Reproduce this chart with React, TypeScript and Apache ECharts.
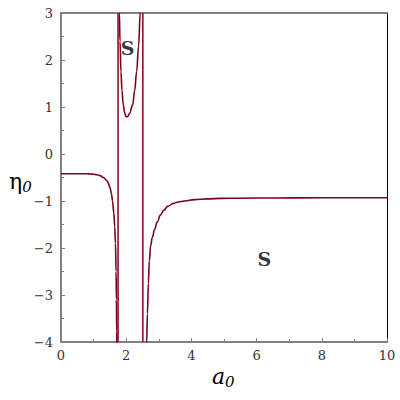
import React, { useEffect, useRef } from "react";
import * as echarts from "echarts";

const leftBranch: [number, number][] = [
  [0, -0.42], [0.5, -0.42], [0.8, -0.42], [0.9, -0.425], [1.0, -0.43], [1.1, -0.44],
  [1.2, -0.46], [1.3, -0.5], [1.4, -0.56], [1.45, -0.62], [1.5, -0.71], [1.55, -0.85],
  [1.58, -1.0], [1.62, -1.25], [1.65, -1.55], [1.67, -1.9], [1.69, -2.5], [1.7, -3.1],
  [1.71, -3.8], [1.715, -4.5],
];

const uBranch: [number, number][] = [
  [1.78, 3.6], [1.79, 3.0], [1.81, 2.4], [1.84, 1.75], [1.87, 1.35], [1.91, 1.05],
  [1.95, 0.88], [2.0, 0.79], [2.05, 0.8], [2.1, 0.86], [2.2, 1.05], [2.26, 1.35],
  [2.32, 1.75], [2.38, 2.3], [2.43, 3.0], [2.46, 3.5],
];

const rightBranch: [number, number][] = [
  [2.62, -4.5], [2.63, -4.0], [2.65, -3.4], [2.68, -2.75], [2.71, -2.27], [2.75, -1.95],
  [2.8, -1.78], [2.87, -1.61], [2.95, -1.45], [3.05, -1.3], [3.15, -1.2], [3.28, -1.11],
  [3.45, -1.05], [3.6, -1.02], [3.79, -1.0], [4.1, -0.97], [4.5, -0.955], [4.91, -0.945],
  [5.5, -0.94], [6.5, -0.935], [8, -0.93], [10, -0.93],
];

const asymptoteX = [1.75, 2.51];
const yRange = [-4, 3];
const xRange = [0, 10];

const regionLabels: [number, number][] = [
  [2.04, 2.26],
  [6.24, -2.24],
];
const regionText = "S";

const CURVE = "#7a0020";
const VLINE = "#8e1028";
const AXIS = "#808080";
const SERIF = "DejaVu Serif";

export default function App() {
  const ref = useRef<HTMLDivElement>(null);
  useEffect(() => {
    if (!ref.current) return;
    const chart = echarts.init(ref.current, null, { renderer: "svg" });
    const fmt = (v: number) => (v < 0 ? "\u2212" + Math.abs(v) : String(v));
    const curveSeries = (data: [number, number][]) => ({
      type: "line",
      data,
      showSymbol: false,
      smooth: 0.4,
      smoothMonotone: "x",
      lineStyle: { color: CURVE, width: 1.6 },
      clip: true,
      silent: true,
    });
    chart.setOption({
      animation: false,
      backgroundColor: "#fff",
      textStyle: { fontFamily: SERIF },
      grid: { left: 61, right: 13, top: 13, bottom: 58 },
      xAxis: [
        {
          type: "value",
          min: xRange[0],
          max: xRange[1],
          interval: 2,
          axisLine: { show: true, onZero: false, lineStyle: { color: AXIS, width: 2 } },
          axisTick: { show: true, inside: true, length: 4, lineStyle: { color: AXIS } },
          minorTick: { show: true, splitNumber: 2, length: 3, lineStyle: { color: AXIS } },
          splitLine: { show: false },
          axisLabel: { formatter: fmt, fontFamily: SERIF, fontSize: 13, color: "#333", margin: 7 },
        },
        {
          type: "value",
          position: "top",
          min: xRange[0],
          max: xRange[1],
          axisLine: { show: true, onZero: false, lineStyle: { color: AXIS, width: 2 } },
          axisTick: { show: false },
          axisLabel: { show: false },
          splitLine: { show: false },
        },
      ],
      yAxis: [
        {
          type: "value",
          min: yRange[0],
          max: yRange[1],
          interval: 1,
          axisLine: { show: true, onZero: false, lineStyle: { color: AXIS, width: 2 } },
          axisTick: { show: true, inside: true, length: 4, lineStyle: { color: AXIS } },
          minorTick: { show: true, splitNumber: 2, length: 3, lineStyle: { color: AXIS } },
          splitLine: { show: false },
          axisLabel: { formatter: fmt, fontFamily: SERIF, fontSize: 13, color: "#333", margin: 8 },
        },
        {
          type: "value",
          position: "right",
          min: yRange[0],
          max: yRange[1],
          axisLine: { show: true, onZero: false, lineStyle: { color: "#000", width: 1 } },
          axisTick: { show: false },
          axisLabel: { show: false },
          splitLine: { show: false },
        },
      ],
      series: [
        curveSeries(leftBranch),
        curveSeries(uBranch),
        curveSeries(rightBranch),
        ...asymptoteX.map((x) => ({
          type: "line",
          data: [
            [x, yRange[0]],
            [x, yRange[1]],
          ],
          showSymbol: false,
          lineStyle: { color: VLINE, width: 1.6 },
          silent: true,
        })),
        {
          type: "scatter",
          data: regionLabels,
          symbolSize: 0,
          silent: true,
          label: {
            show: true,
            position: "inside",
            formatter: regionText,
            fontFamily: SERIF,
            fontWeight: "bold",
            fontSize: 19,
            color: "#000",
          },
        },
      ],
      graphic: [
        {
          type: "text",
          left: 212,
          top: 365,
          style: {
            text: "{a|a}{s|0}",
            rich: {
              a: { fontFamily: SERIF, fontStyle: "italic", fontSize: 22, fill: "#000" },
              s: { fontFamily: SERIF, fontStyle: "italic", fontSize: 15, fill: "#000", padding: [12, 0, 0, 0] },
            },
          },
        },
        {
          type: "text",
          left: 9,
          top: 170,
          style: {
            text: "{a|\u03b7}{s|0}",
            rich: {
              a: { fontFamily: SERIF, fontSize: 22, fill: "#000" },
              s: { fontFamily: SERIF, fontStyle: "italic", fontSize: 15, fill: "#000", padding: [12, 0, 0, 0] },
            },
          },
        },
      ],
    });
    return () => chart.dispose();
  }, []);
  return (
    <div
      ref={ref}
      style={{ position: "fixed", left: 0, top: 0, width: 400, height: 400, background: "#fff" }}
    />
  );
}
